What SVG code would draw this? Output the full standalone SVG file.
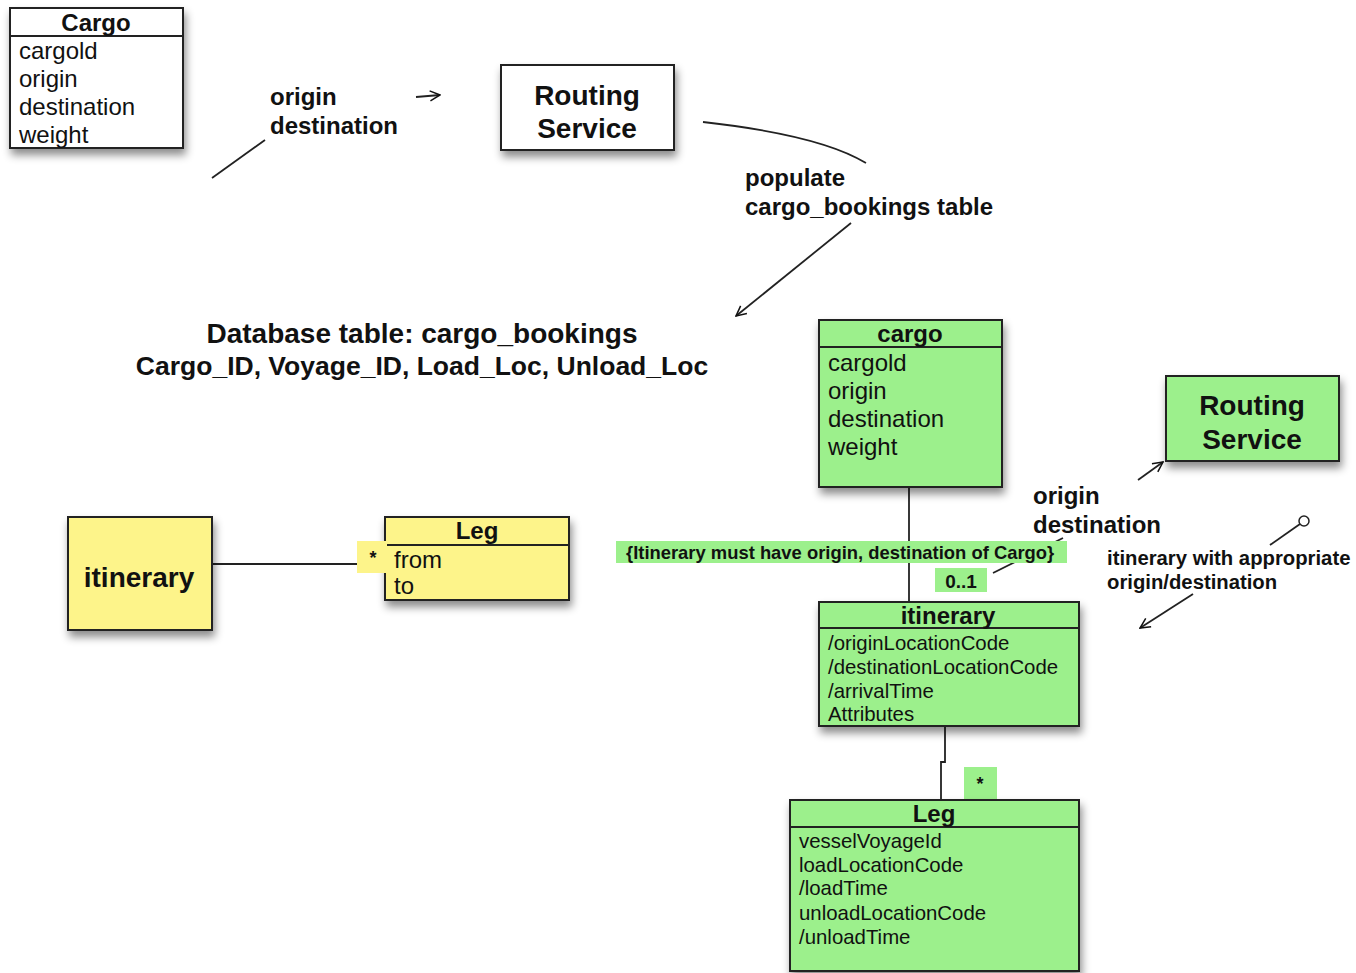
<svg xmlns="http://www.w3.org/2000/svg" width="1356" height="973" viewBox="0 0 1356 973">
<defs>
<filter id="sh" x="-20%" y="-20%" width="140%" height="150%">
<feDropShadow dx="2" dy="6" stdDeviation="4" flood-color="#000" flood-opacity="0.45"/>
</filter>
<marker id="open" viewBox="0 0 12 12" refX="11" refY="6" markerWidth="12" markerHeight="12" markerUnits="userSpaceOnUse" orient="auto">
<path d="M1,1 L11,6 L1,11" fill="none" stroke="#111" stroke-width="1.5"/>
</marker>
</defs>
<style>
text{font-family:"Liberation Sans",Arial,sans-serif;fill:#111}
.b{font-weight:bold}
.box{stroke:#222;stroke-width:2}
.w{fill:#fff}
.g{fill:#9cf08c}
.y{fill:#fdf48a}
.ln{stroke:#222;stroke-width:1.8;fill:none}
.t22{font-size:24px}
.t26{font-size:28px}
.t19{font-size:20.4px}
.c{text-anchor:middle}
</style>
<rect width="1356" height="973" fill="#fff"/>

<g id="connectors">
<line class="ln" x1="212" y1="178" x2="265" y2="140"/>
<line class="ln" x1="416" y1="97" x2="440" y2="95" marker-end="url(#open)" stroke-width="1.5"/>
<path class="ln" d="M703,122 Q820,135 866,163" stroke-width="1.5"/>
<line class="ln" x1="851" y1="223" x2="736" y2="316" marker-end="url(#open)" stroke-width="1.5"/>
<line class="ln" x1="909" y1="487" x2="909" y2="602"/>
<line class="ln" x1="993" y1="573" x2="1063" y2="538" stroke-width="1.5"/>
<line class="ln" x1="1138" y1="480" x2="1163" y2="462" marker-end="url(#open)" stroke-width="1.5"/>
<line class="ln" x1="1270" y1="545" x2="1300" y2="524" stroke-width="1.5"/>
<circle cx="1304" cy="521" r="5" fill="#fff" stroke="#222" stroke-width="1.5"/>
<line class="ln" x1="1193" y1="594" x2="1140" y2="628" marker-end="url(#open)" stroke-width="1.5"/>
<path class="ln" d="M945,726 V762 H941 V800"/>
<line class="ln" x1="212" y1="564" x2="357" y2="564"/>
</g>

<g id="cargo-white">
<rect class="box w" x="10" y="8" width="173" height="140" filter="url(#sh)"/>
<line class="box" x1="10" y1="36" x2="183" y2="36"/>
<text class="b t22 c" x="96" y="31">Cargo</text>
<text class="t22" x="19" y="59">cargold</text>
<text class="t22" x="19" y="87">origin</text>
<text class="t22" x="19" y="115">destination</text>
<text class="t22" x="19" y="143">weight</text>
</g>

<g id="label-origin-dest-1">
<text class="b t22" x="270" y="105">origin</text>
<text class="b t22" x="270" y="134">destination</text>
</g>

<g id="routing-white">
<rect class="box w" x="501" y="65" width="173" height="85" filter="url(#sh)"/>
<text class="b t26 c" x="587" y="105">Routing</text>
<text class="b t26 c" x="587" y="138">Service</text>
</g>

<g id="label-populate">
<text class="b t22" x="745" y="186">populate</text>
<text class="b t22" x="745" y="215">cargo_bookings table</text>
</g>

<g id="db-table">
<text class="b c" x="422" y="343" font-size="28">Database table: cargo_bookings</text>
<text class="b c" x="422" y="375" font-size="26.5">Cargo_ID, Voyage_ID, Load_Loc, Unload_Loc</text>
</g>

<g id="cargo-green">
<rect class="box g" x="819" y="320" width="183" height="167" filter="url(#sh)"/>
<line class="box" x1="819" y1="347" x2="1002" y2="347"/>
<text class="b t22 c" x="910" y="342">cargo</text>
<text class="t22" x="828" y="371">cargold</text>
<text class="t22" x="828" y="399">origin</text>
<text class="t22" x="828" y="427">destination</text>
<text class="t22" x="828" y="455">weight</text>
</g>

<g id="routing-green">
<rect class="box g" x="1166" y="376" width="173" height="85" filter="url(#sh)"/>
<text class="b t26 c" x="1252" y="415">Routing</text>
<text class="b t26 c" x="1252" y="449">Service</text>
</g>

<g id="label-origin-dest-2">
<text class="b t22" x="1033" y="504">origin</text>
<text class="b t22" x="1033" y="533">destination</text>
</g>

<g id="constraint">
<rect class="g" x="616" y="541" width="451" height="22"/>
<text class="b" x="626" y="559" font-size="18.4">{Itinerary must have origin, destination of Cargo}</text>
</g>

<g id="mult-01">
<rect class="g" x="935" y="568" width="52" height="24"/>
<text class="b c" x="961" y="588" font-size="19">0..1</text>
</g>

<g id="label-itin-appropriate">
<text class="b" x="1107" y="565" font-size="20.3">itinerary with appropriate</text>
<text class="b" x="1107" y="589" font-size="20.3">origin/destination</text>
</g>

<g id="itinerary-green">
<rect class="box g" x="819" y="602" width="260" height="124" filter="url(#sh)"/>
<line class="box" x1="819" y1="628" x2="1079" y2="628"/>
<text class="b t22 c" x="948" y="624">itinerary</text>
<text class="t19" x="828" y="650">/originLocationCode</text>
<text class="t19" x="828" y="674">/destinationLocationCode</text>
<text class="t19" x="828" y="698">/arrivalTime</text>
<text class="t19" x="828" y="721">Attributes</text>
</g>

<g id="mult-star-green">
<rect class="g" x="964" y="767" width="33" height="33"/>
<text class="b c" x="980" y="790" font-size="18">*</text>
</g>

<g id="leg-green">
<rect class="box g" x="790" y="800" width="289" height="171" filter="url(#sh)"/>
<line class="box" x1="790" y1="827" x2="1079" y2="827"/>
<text class="b t22 c" x="934" y="822">Leg</text>
<text class="t19" x="799" y="848">vesselVoyageId</text>
<text class="t19" x="799" y="872">loadLocationCode</text>
<text class="t19" x="799" y="895">/loadTime</text>
<text class="t19" x="799" y="920">unloadLocationCode</text>
<text class="t19" x="799" y="944">/unloadTime</text>
</g>

<g id="itinerary-yellow">
<rect class="box y" x="68" y="517" width="144" height="113" filter="url(#sh)"/>
<text class="b t26 c" x="139" y="587">itinerary</text>
</g>

<g id="leg-yellow">
<rect class="box y" x="385" y="517" width="184" height="83" filter="url(#sh)"/>
<line class="box" x1="385" y1="545" x2="569" y2="545"/>
<text class="b t22 c" x="477" y="539">Leg</text>
<text class="t22" x="394" y="568">from</text>
<text class="t22" x="394" y="594">to</text>
</g>

<g id="mult-star-yellow">
<rect class="y" x="357" y="541" width="30" height="32"/>
<text class="b c" x="373" y="564" font-size="18">*</text>
</g>
</svg>
